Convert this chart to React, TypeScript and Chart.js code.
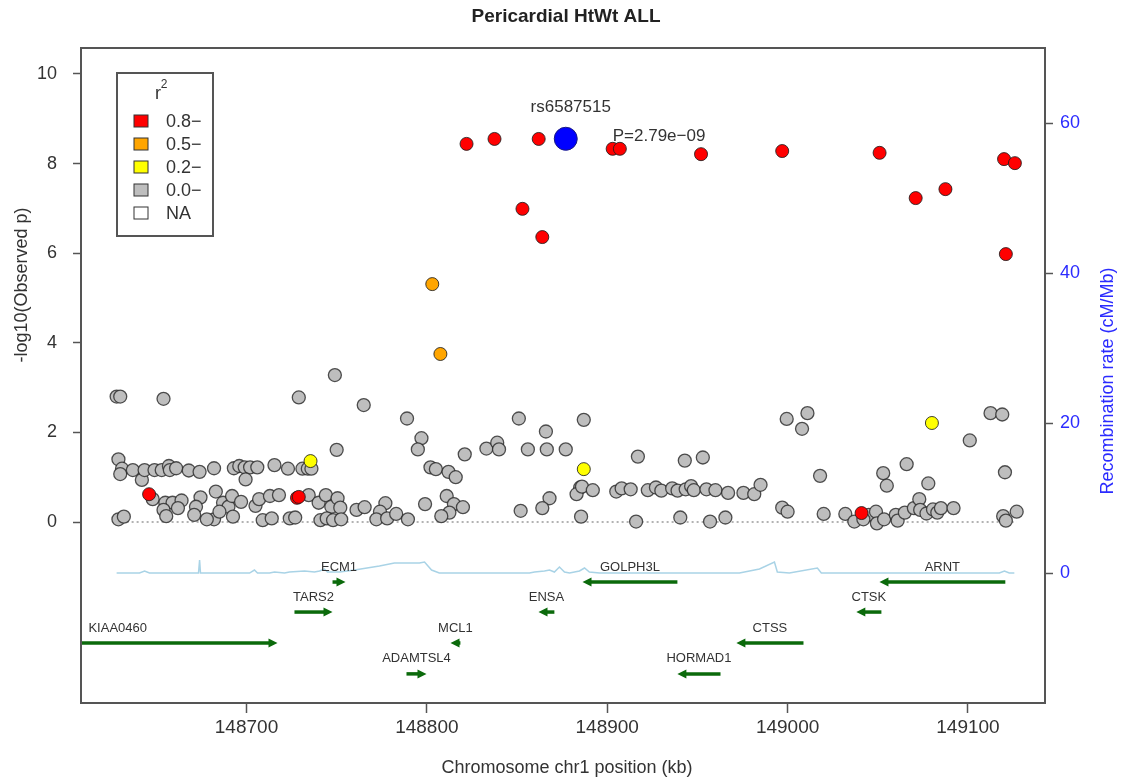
import React, { useEffect, useRef } from "react";
import { Chart, registerables } from "chart.js";

Chart.register(...registerables);

const W = 1127;
const H = 783;
const FONT = '"Liberation Sans", Arial, Helvetica, sans-serif';

const TITLE = "Pericardial HtWt ALL";
const X_TITLE = "Chromosome chr1 position (kb)";
const Y_TITLE = "-log10(Observed p)";
const Y2_TITLE = "Recombination rate (cM/Mb)";

const X_TICKS = [148700, 148800, 148900, 149000, 149100];
const Y_TICKS = [0, 2, 4, 6, 8, 10];
const RECOMB_TICKS = [0, 20, 40, 60];

// SNPs with r^2 < 0.2 (grey)
const greyPos = [
  148628, 148630, 148654, 148729, 148750, 148629, 148631, 148630, 148637, 148642,
  148643.5, 148649, 148653, 148657, 148657.5, 148661, 148668, 148674, 148682, 148693,
  148696, 148699, 148702, 148706, 148699.5, 148715.5, 148723, 148731, 148734, 148736,
  148648, 148655, 148659, 148664, 148662, 148654, 148655.5, 148674.5, 148672, 148671,
  148683, 148687, 148690, 148692, 148697, 148692.5, 148682, 148678, 148685, 148705,
  148707, 148713, 148718, 148709, 148714, 148724, 148727, 148734.5, 148740, 148744,
  148747, 148750.5, 148752, 148741, 148744.5, 148748, 148752.5, 148629, 148632,
  148749, 148765, 148789, 148797, 148795, 148802, 148805, 148812, 148816, 148821,
  148833, 148839, 148840, 148851, 148856, 148866, 148866.5, 148877, 148887, 148885,
  148883, 148868, 148864, 148852, 148885.5, 148761, 148765.5, 148777, 148774, 148772,
  148778, 148783, 148789.5, 148799, 148811, 148815, 148820, 148812.5, 148808,
  148917, 148943, 148953, 148999.5, 149008, 149011, 148886, 148892, 148905, 148908,
  148913, 148922.5, 148927, 148930, 148936, 148939, 148943.5, 148946.5, 148948, 148955,
  148960, 148967, 148975.5, 148981.5, 148985, 148997, 149000, 148916, 148940.5, 148957,
  148965.5,
  149018, 149053, 149055, 149066, 149078, 149101, 149112.5, 149119, 149120.5, 149127,
  149119.5, 149121, 149020, 149032, 149037, 149045, 149049, 149049.5, 149053.5, 149060,
  149061, 149065, 149070, 149073, 149073.5, 149077, 149080.6, 149083, 149085, 149092,
  149042,
];
const greyLogP = [
  2.8, 2.8, 2.75, 2.78, 1.61, 1.4, 1.19, 1.07, 1.16, 0.94,
  1.16, 1.16, 1.16, 1.25, 1.16, 1.2, 1.15, 1.12, 1.2, 1.2,
  1.25, 1.22, 1.22, 1.22, 0.95, 1.27, 1.19, 1.19, 1.19, 1.19,
  0.51, 0.43, 0.43, 0.48, 0.31, 0.27, 0.13, 0.55, 0.34, 0.16,
  0.68, 0.43, 0.34, 0.58, 0.45, 0.12, 0.06, 0.06, 0.23, 0.36,
  0.51, 0.58, 0.6, 0.04, 0.08, 0.08, 0.1, 0.6, 0.43, 0.6,
  0.34, 0.53, 0.32, 0.04, 0.08, 0.04, 0.06, 0.06, 0.12,
  3.28, 2.61, 2.31, 1.87, 1.62, 1.22, 1.18, 1.12, 1.0, 1.51,
  1.64, 1.77, 1.62, 2.31, 1.62, 2.02, 1.62, 1.62, 2.28, 0.77,
  0.62, 0.53, 0.31, 0.25, 0.12, 0.27, 0.33, 0.42, 0.23, 0.06,
  0.08, 0.18, 0.06, 0.4, 0.58, 0.4, 0.33, 0.21, 0.13,
  1.46, 1.37, 1.44, 2.3, 2.08, 2.43, 0.79, 0.71, 0.68, 0.75,
  0.73, 0.71, 0.77, 0.7, 0.75, 0.7, 0.73, 0.8, 0.71, 0.73,
  0.71, 0.65, 0.65, 0.62, 0.83, 0.32, 0.23, 0.01, 0.1, 0.01,
  0.1,
  1.03, 1.09, 0.81, 1.29, 0.86, 1.82, 2.43, 2.4, 1.11, 0.23,
  0.13, 0.03, 0.18, 0.18, 0.01, 0.16, 0.23, -0.03, 0.06, 0.16,
  0.03, 0.21, 0.31, 0.51, 0.27, 0.19, 0.28, 0.21, 0.31, 0.31,
  0.06,
];

// r^2 0.2 - 0.5 (yellow)
const yellowPos = [148735.5, 148887, 149080];
const yellowLogP = [1.36, 1.18, 2.21];

// r^2 0.5 - 0.8 (orange)
const orangePos = [148803, 148807.5];
const orangeLogP = [5.31, 3.75];

// r^2 >= 0.8 (red)
const redPos = [
  148646, 148728, 148729, 149041, 148822, 148837.5, 148862, 148903, 148907, 148952,
  148997, 149051, 149071, 149087.5, 149120, 149126, 149121, 148853, 148864,
];
const redLogP = [
  0.62, 0.54, 0.56, 0.2, 8.44, 8.55, 8.55, 8.33, 8.33, 8.21,
  8.28, 8.24, 7.23, 7.43, 8.1, 8.01, 5.98, 6.99, 6.36,
];

// index SNP
const leadSnp = "rs6587515";
const leadPos = 148877;
const leadP = 2.79e-9;

// recombination rate (cM/Mb)
const recombPos = [
  148628, 148640.7, 148643.5, 148646.2, 148671.2, 148673.4, 148674, 148674.5, 148701.7, 148704.4,
  148706.1, 148712.8, 148715.5, 148721.1, 148723.8, 148732.2, 148737.7, 148740.5, 148743.2, 148744.9,
  148751.6, 148759.9, 148773.7, 148782, 148795.9, 148798.7, 148802.6, 148806.9, 148856.9, 148859.7,
  148865.2, 148868, 148870.7, 148873.5, 148876.3, 148879.1, 148884.6, 148887.4, 148890.1, 148895.7,
  148973.3, 148984.4, 148992.7, 148994.3, 149001, 149016.5, 149018.7, 149095.2, 149117.4, 149120.2,
  149122.9, 149125.7,
];
const recombRate = [
  0, 0, 0.27, 0, 0, 0, 1.73, 0, 0, 0.4,
  0, 0, 0.13, 0, 0.13, 0.27, 0.13, 0.27, 0.53, 0.13,
  0.13, 0.4, 0.93, 1.33, 1.33, 1.47, 0.4, 0, 0, 0.13,
  0.27, 0.4, 0.13, 0.8, 0.13, 0, 0.27, 0.67, 0.13, 0,
  0, 0.53, 1.47, 0.13, 0, 0.67, 0, 0, 0, 0.27,
  0, 0,
];

// gene track
const geneNames = ["KIAA0460", "TARS2", "ECM1", "ADAMTSL4", "MCL1", "ENSA", "GOLPH3L", "HORMAD1", "CTSS", "CTSK", "ARNT"];
const geneStart = [148540, 148726.6, 148747.7, 148788.7, 148813.1, 148861.9, 148886.3, 148938.9, 148971.6, 149038.1, 149050.9];
const geneEnd = [148717.2, 148747.7, 148754.9, 148799.8, 148818.6, 148870.7, 148938.9, 148962.8, 149008.8, 149052.0, 149120.7];
const geneStrand = ["+", "+", "+", "+", "-", "-", "-", "-", "-", "-", "-"];
const geneRow = [3, 2, 1, 4, 3, 2, 1, 4, 3, 2, 1];
const geneRowLevel = [-1.34, -2.01, -2.7, -3.39];

const legendLabels = ["0.8\u2212", "0.5\u2212", "0.2\u2212", "0.0\u2212", "NA"];
const legendColors = ["#ff0000", "#ffa500", "#ffff00", "#bebebe", "#ffffff"];

const zeroLinePos = [148628, 149127];

const toPoints = (xs: number[], ys: number[]) => xs.map((x, i) => ({ x, y: ys[i] }));

const formatP = (p: number) => {
  const [m, e] = p.toExponential(2).split("e");
  const exp = parseInt(e, 10);
  const sign = exp < 0 ? "\u2212" : "+";
  return `P=${m}e${sign}${String(Math.abs(exp)).padStart(2, "0")}`;
};

const locusOverlay = {
  id: "locusOverlay",
  afterDatasetsDraw(chart: any) {
    const { ctx, chartArea: a, scales } = chart;
    const xs = scales.x;
    const ys = scales.y;
    ctx.save();
    ctx.beginPath();
    ctx.rect(a.left, a.top, a.right - a.left, a.bottom - a.top);
    ctx.clip();

    // gene arrows
    const green = "#0b6a0b";
    geneNames.forEach((name, i) => {
      const y = ys.getPixelForValue(geneRowLevel[geneRow[i] - 1]);
      const x0 = xs.getPixelForValue(geneStart[i]);
      const x1 = xs.getPixelForValue(geneEnd[i]);
      const head = 9;
      const half = 4.5;
      ctx.strokeStyle = green;
      ctx.fillStyle = green;
      ctx.lineWidth = 3.5;
      ctx.lineCap = "butt";
      ctx.beginPath();
      if (geneStrand[i] === "+") {
        ctx.moveTo(x0, y);
        ctx.lineTo(x1 - head + 1, y);
        ctx.stroke();
        ctx.beginPath();
        ctx.moveTo(x1, y);
        ctx.lineTo(x1 - head, y - half);
        ctx.lineTo(x1 - head, y + half);
        ctx.closePath();
        ctx.fill();
      } else {
        ctx.moveTo(x0 + head - 1, y);
        ctx.lineTo(x1, y);
        ctx.stroke();
        ctx.beginPath();
        ctx.moveTo(x0, y);
        ctx.lineTo(x0 + head, y - half);
        ctx.lineTo(x0 + head, y + half);
        ctx.closePath();
        ctx.fill();
      }
      // label centred on the gene, kept inside the plot
      ctx.font = `13px ${FONT}`;
      ctx.fillStyle = "#333";
      ctx.textAlign = "center";
      ctx.textBaseline = "middle";
      const tw = ctx.measureText(name).width;
      let lx = xs.getPixelForValue((geneStart[i] + geneEnd[i]) / 2);
      lx = Math.max(lx, a.left + tw / 2 + 7);
      lx = Math.min(lx, a.right - tw / 2 - 7);
      ctx.fillText(name, lx, y - 15);
    });

    // index SNP annotation
    const lx = xs.getPixelForValue(leadPos);
    const ly = ys.getPixelForValue(-Math.log10(leadP));
    ctx.fillStyle = "#333";
    ctx.font = `17px ${FONT}`;
    ctx.textAlign = "center";
    ctx.textBaseline = "middle";
    ctx.fillText(leadSnp, lx + 5, ly - 31);
    ctx.textAlign = "left";
    ctx.fillText(formatP(leadP), lx + 47, ly - 2);
    ctx.restore();
  },
  afterDraw(chart: any) {
    const { ctx, chartArea: a } = chart;
    ctx.save();
    // plot frame
    ctx.strokeStyle = "#555";
    ctx.lineWidth = 2;
    ctx.strokeRect(a.left, a.top, a.right - a.left, a.bottom - a.top);

    // title
    ctx.fillStyle = "#222";
    ctx.font = `bold 19px ${FONT}`;
    ctx.textAlign = "center";
    ctx.textBaseline = "middle";
    ctx.fillText(TITLE, (a.left + a.right) / 2 + 3, 17);

    // axis titles
    ctx.font = `18px ${FONT}`;
    ctx.fillStyle = "#333";
    ctx.fillText(X_TITLE, (a.left + a.right) / 2 + 4, 768);
    ctx.save();
    ctx.translate(22, 285);
    ctx.rotate(-Math.PI / 2);
    ctx.fillText(Y_TITLE, 0, 0);
    ctx.restore();
    ctx.save();
    ctx.fillStyle = "#2b2bff";
    ctx.translate(1108, 381);
    ctx.rotate(-Math.PI / 2);
    ctx.fillText(Y2_TITLE, 0, 0);
    ctx.restore();

    // r^2 legend
    const bx = a.left + 36;
    const by = a.top + 25;
    ctx.fillStyle = "#fff";
    ctx.fillRect(bx, by, 96, 163);
    ctx.strokeStyle = "#555";
    ctx.lineWidth = 2;
    ctx.strokeRect(bx, by, 96, 163);
    ctx.fillStyle = "#333";
    ctx.textAlign = "center";
    ctx.font = `18px ${FONT}`;
    ctx.fillText("r", bx + 41, by + 21);
    ctx.font = `12px ${FONT}`;
    ctx.fillText("2", bx + 47, by + 12);
    legendLabels.forEach((lab, i) => {
      const cy = by + 48 + i * 23;
      ctx.fillStyle = legendColors[i];
      ctx.fillRect(bx + 17, cy - 6, 14, 12);
      ctx.strokeStyle = "#333";
      ctx.lineWidth = 1;
      ctx.strokeRect(bx + 17, cy - 6, 14, 12);
      ctx.fillStyle = "#333";
      ctx.font = `18px ${FONT}`;
      ctx.textAlign = "left";
      ctx.fillText(lab, bx + 49, cy + 1);
    });
    ctx.restore();
  },
};

export default function App() {
  const canvasRef = useRef<HTMLCanvasElement | null>(null);

  useEffect(() => {
    const canvas = canvasRef.current;
    if (!canvas) return;
    const border = "rgba(30,30,30,0.85)";
    const chart = new Chart(canvas, {
      type: "scatter",
      data: {
        datasets: [
          {
            label: leadSnp,
            data: [{ x: leadPos, y: -Math.log10(leadP) }],
            backgroundColor: "#0000ff",
            borderColor: "#1a1a80",
            borderWidth: 1,
            pointRadius: 11.5,
            order: 0,
          },
          {
            label: "r2 0.8-",
            data: toPoints(redPos, redLogP),
            backgroundColor: "#ff0000",
            borderColor: border,
            borderWidth: 1,
            pointRadius: 6.5,
            order: 1,
          },
          {
            label: "r2 0.5-",
            data: toPoints(orangePos, orangeLogP),
            backgroundColor: "#ffa500",
            borderColor: border,
            borderWidth: 1,
            pointRadius: 6.5,
            order: 2,
          },
          {
            label: "r2 0.2-",
            data: toPoints(yellowPos, yellowLogP),
            backgroundColor: "#ffff00",
            borderColor: border,
            borderWidth: 1,
            pointRadius: 6.5,
            order: 3,
          },
          {
            label: "r2 0.0-",
            data: toPoints(greyPos, greyLogP),
            backgroundColor: "#bebebe",
            borderColor: "rgba(40,40,40,0.8)",
            borderWidth: 1.3,
            pointRadius: 6.5,
            order: 4,
          },
          {
            label: "recombination",
            data: toPoints(recombPos, recombRate),
            yAxisID: "y2",
            showLine: true,
            borderColor: "#a9d3e6",
            borderWidth: 1.5,
            pointRadius: 0,
            order: 5,
          },
          {
            label: "zero",
            data: zeroLinePos.map((x) => ({ x, y: 0 })),
            showLine: true,
            borderColor: "#9a9a9a",
            borderWidth: 1.5,
            borderDash: [2, 3],
            pointRadius: 0,
            order: 6,
          },
        ],
      },
      options: {
        animation: false,
        responsive: false,
        devicePixelRatio: 1,
        layout: { padding: { top: 48, left: 0, right: 0, bottom: 0 } },
        plugins: {
          legend: { display: false },
          tooltip: { enabled: false },
          title: { display: false },
        },
        scales: {
          x: {
            type: "linear",
            position: "bottom",
            min: 148608.25,
            max: 149142.7,
            afterBuildTicks: (s: any) => {
              s.ticks = X_TICKS.map((v) => ({ value: v }));
            },
            afterFit: (s: any) => {
              s.height = 80;
            },
            border: { display: false },
            grid: { drawOnChartArea: false, drawTicks: true, tickLength: 10, tickColor: "#555", tickWidth: 1.5 },
            ticks: {
              color: "#333",
              font: { family: FONT, size: 19 },
              padding: 3,
              maxRotation: 0,
              autoSkip: false,
              callback: (v: any) => String(v),
            },
          },
          y: {
            type: "linear",
            position: "left",
            min: -4.04,
            max: 10.58,
            afterBuildTicks: (s: any) => {
              s.ticks = Y_TICKS.map((v) => ({ value: v }));
            },
            afterFit: (s: any) => {
              s.width = 81;
            },
            border: { display: false },
            grid: { drawOnChartArea: false, drawTicks: true, tickLength: 8, tickColor: "#555", tickWidth: 1.5 },
            ticks: {
              color: "#333",
              font: { family: FONT, size: 18 },
              padding: 16,
              autoSkip: false,
              callback: (v: any) => String(v),
            },
          },
          y2: {
            type: "linear",
            position: "right",
            min: -17.33,
            max: 70,
            afterBuildTicks: (s: any) => {
              s.ticks = RECOMB_TICKS.map((v) => ({ value: v }));
            },
            afterFit: (s: any) => {
              s.width = 82;
            },
            border: { display: false },
            grid: { drawOnChartArea: false, drawTicks: true, tickLength: 8, tickColor: "#555", tickWidth: 1.5 },
            ticks: {
              color: "#2b2bff",
              font: { family: FONT, size: 18 },
              padding: 7,
              autoSkip: false,
              callback: (v: any) => String(v),
            },
          },
        },
      },
      plugins: [locusOverlay],
    } as any);
    return () => chart.destroy();
  }, []);

  return (
    <div style={{ position: "fixed", left: 0, top: 0, width: W, height: H, background: "#fff" }}>
      <canvas ref={canvasRef} width={W} height={H} style={{ display: "block", width: W, height: H }} />
    </div>
  );
}
